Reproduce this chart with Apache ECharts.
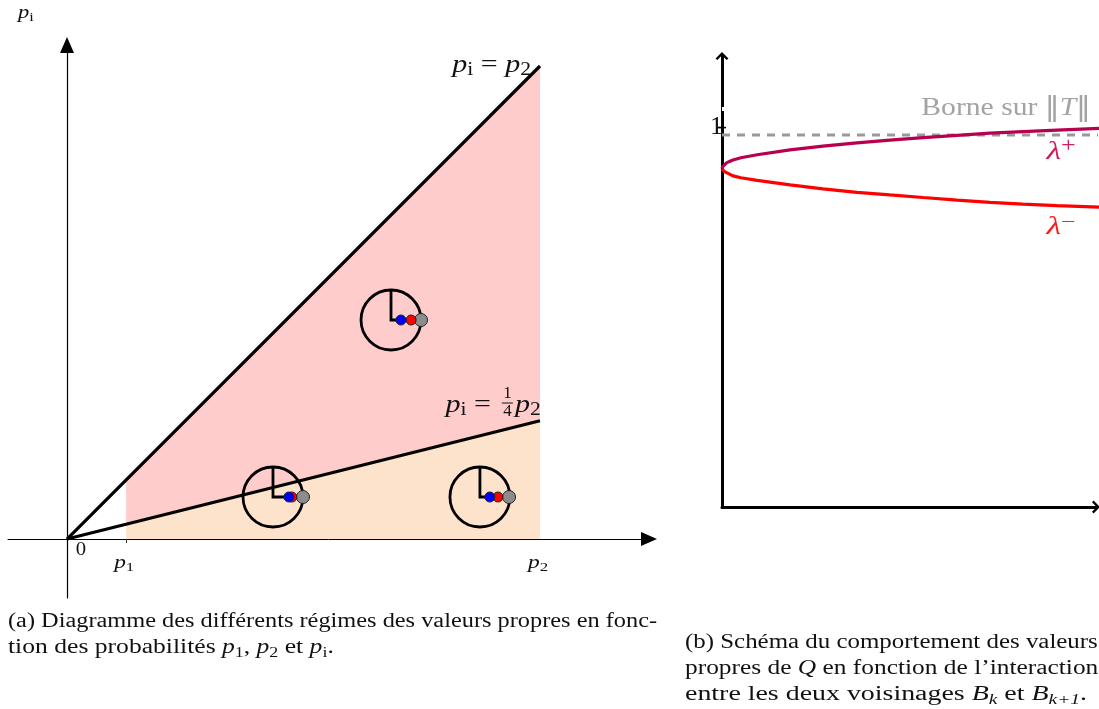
<!DOCTYPE html>
<html><head><meta charset="utf-8">
<style>html,body{margin:0;padding:0;background:#fff}#c{width:1099px;height:709px}</style>
<script src="https://cdn.jsdelivr.net/npm/echarts@6/dist/echarts.min.js"></script>
</head><body><div id="c"></div>
<script>
// ---- Panel (a) data (units of p2) ----
const p1Value = 0.125, p2Value = 1;
const diagonalLine = [[0, 0], [1, 1]];
const quarterLine = [[0, 0], [1, 0.25]];
const pinkRegion = [[0.125, 0.03125], [0.125, 0.125], [1, 1], [1, 0.25]];
const orangeRegion = [[0.125, 0], [1, 0], [1, 0.25], [0.125, 0.03125]];
const dialX = [0.685, 0.4355, 0.873];
const dialY = [0.463, 0.0888, 0.0888];
const dialRadius = 0.0634;
const blueFraction = [0.33, 0.53, 0.33];
const redFraction = [0.67, 0.63, 0.60];
const grayFraction = [1.0, 1.0, 0.97];
// ---- Panel (b) data ----
const lambdaX     = [0, 0.002, 0.006, 0.012, 0.02, 0.029, 0.05, 0.093, 0.18, 0.267, 0.357, 0.444, 0.532, 0.622, 0.709, 0.796, 0.886, 1];
const lambdaPlus  = [0.909, 0.915, 0.920, 0.925, 0.929, 0.933, 0.939, 0.947, 0.960, 0.970, 0.979, 0.986, 0.993, 0.999, 1.005, 1.009, 1.013, 1.018];
const lambdaMinus = [0.909, 0.905, 0.902, 0.899, 0.895, 0.890, 0.885, 0.878, 0.866, 0.855, 0.846, 0.839, 0.832, 0.825, 0.819, 0.814, 0.810, 0.806];
const boundLine = [[0, 1], [1, 1]];
const tickOneValue = 1.02;

const F = '"Liberation Serif", "DejaVu Serif", serif';
const ink = '#111';
const mathRich = (size, color) => ({
  m: {fontFamily: F, fontStyle: 'italic', fontSize: size, fill: color, lineHeight: size + 4},
  t: {fontFamily: F, fontSize: size, fill: color, lineHeight: size + 4},
  b: {fontFamily: '"DejaVu Sans"', fontSize: size, fill: color, lineHeight: size + 4},
  s: {fontFamily: F, fontSize: Math.round(size * 0.7), fill: color, verticalAlign: 'bottom', lineHeight: size + 4},
  si: {fontFamily: F, fontStyle: 'italic', fontSize: Math.round(size * 0.7), fill: color, verticalAlign: 'bottom', lineHeight: size + 4},
  u: {fontFamily: F, fontSize: Math.round(size * 0.75), fill: color, verticalAlign: 'top', lineHeight: size + 4}
});
const annotationSeries = (xi, yi, items) => ({
  type: 'custom', xAxisIndex: xi, yAxisIndex: yi, silent: true, z: 8, clip: false,
  data: items.map(a => a.at),
  renderItem: (p, api) => {
    const a = items[p.dataIndex];
    const c = api.coord([api.value(0), api.value(1)]);
    return {type: 'text', x: c[0], y: c[1], scaleX: a.scale || 1,
      style: {text: a.text, rich: a.rich, align: a.align || 'center', verticalAlign: 'middle'}};
  }
});
const polygonSeries = (pts, color) => ({
  type: 'custom', xAxisIndex: 0, yAxisIndex: 0, silent: true, z: 1, data: [0],
  renderItem: (p, api) => ({type: 'polygon', shape: {points: pts.map(q => api.coord(q))}, style: {fill: color}})
});
const dialSeries = {
  type: 'custom', xAxisIndex: 0, yAxisIndex: 0, silent: true, z: 4,
  data: dialX.map((x, i) => [x, dialY[i], grayFraction[i]]),
  renderItem: (p, api) => {
    const c = api.coord([api.value(0), api.value(1)]);
    const r = api.size([dialRadius, 0])[0];
    const style = {stroke: '#000', lineWidth: 2.8, fill: 'none'};
    return {type: 'group', children: [
      {type: 'circle', shape: {cx: c[0], cy: c[1], r}, style},
      {type: 'polyline', shape: {points: [[c[0], c[1] - r], c, [c[0] + r * api.value(2), c[1]]]}, style}
    ]};
  }
};
const dotSeries = (fractions, color, size) => ({
  type: 'scatter', xAxisIndex: 0, yAxisIndex: 0, silent: true, z: 5, symbolSize: size,
  itemStyle: {color, borderColor: '#222', borderWidth: 1, opacity: 1},
  data: dialX.map((x, i) => [x + fractions[i] * dialRadius, dialY[i]])
});
const caption = (x, y, scale, text) => ({type: 'text', x, y, scaleX: scale, silent: true,
  style: {text, rich: mathRich(20, ink), align: 'left', verticalAlign: 'middle'}});
const chevron = 'path://M50,0 L100,50 L86,62 L50,26 L14,62 L0,50 Z';
const chart = echarts.init(document.getElementById('c'));
chart.setOption({
  animation: false, backgroundColor: '#fff',
  grid: [
    {left: 8, top: 45, width: 641, height: 553},
    {left: 722, top: 56, width: 374, height: 451}
  ],
  xAxis: [
    {type: 'value', gridIndex: 0, min: -0.1247, max: 1.2304, splitLine: {show: false}, axisLabel: {show: false},
     axisLine: {show: true, lineStyle: {color: '#000', width: 1}, symbol: ['none', 'triangle'], symbolSize: [14, 16]},
     axisTick: {show: true, customValues: [p1Value], length: 4, lineStyle: {color: '#333', width: 1}}},
    {type: 'value', gridIndex: 1, min: 0, max: 0.9894, splitLine: {show: false}, axisTick: {show: false}, axisLabel: {show: false},
     axisLine: {show: true, onZero: false, lineStyle: {color: '#000', width: 3}, symbol: ['none', chevron], symbolSize: [15, 8]}}
  ],
  yAxis: [
    {type: 'value', gridIndex: 0, min: -0.1247, max: 1.0444, splitLine: {show: false}, axisTick: {show: false}, axisLabel: {show: false},
     axisLine: {show: true, lineStyle: {color: '#000', width: 1.2}, symbol: ['none', 'triangle'], symbolSize: [14, 16]}},
    {type: 'value', gridIndex: 1, min: 0, max: 1.2124, splitLine: {show: false},
     axisLine: {show: true, onZero: false, lineStyle: {color: '#000', width: 3}, symbol: ['none', chevron], symbolSize: [15, 8]},
     axisTick: {show: true, customValues: [tickOneValue], length: 4, lineStyle: {color: '#000', width: 1.4}},
     axisLabel: {show: true, customValues: [tickOneValue], formatter: () => '1', margin: -1, padding: [3, 0, 0, 0], fontFamily: F, fontSize: 26, color: ink}}
  ],
  series: [
    polygonSeries(pinkRegion, '#ffcccc'),
    polygonSeries(orangeRegion, '#fee3cc'),
    {type: 'line', xAxisIndex: 0, yAxisIndex: 0, data: diagonalLine, symbol: 'none', silent: true, z: 3, lineStyle: {color: '#000', width: 3.2}},
    {type: 'line', xAxisIndex: 0, yAxisIndex: 0, data: quarterLine, symbol: 'none', silent: true, z: 3, lineStyle: {color: '#000', width: 3.2}},
    dialSeries,
    dotSeries(grayFraction, '#8c8c8c', 13),
    dotSeries(redFraction, '#ff0000', 10),
    dotSeries(blueFraction, '#0000ff', 10),
    annotationSeries(0, 0, [
      {at: [0.0296, -0.0233], text: '{t|0}', scale: 1.15, rich: mathRich(18, ink)},
      {at: [p1Value - 0.004, -0.0507], text: '{m|p}{s|1}', scale: 1.3, rich: mathRich(18, ink)},
      {at: [p2Value - 0.004, -0.0507], text: '{m|p}{s|2}', scale: 1.3, rich: mathRich(18, ink)},
      {at: [0.981, 1.002], align: 'right', text: '{m|p}{s|i}{t| = }{m|p}{s|2}', scale: 1.2, rich: mathRich(25, ink)},
      {at: [0.896, 0.283], align: 'right', text: '{m|p}{s|i}{t| =}', scale: 1.2, rich: mathRich(25, ink)},
      {at: [0.931, 0.2875], text: '{n|1}\n{r|}\n{n|4}', rich: {
        n: {fontFamily: F, fontSize: 17, fill: ink, lineHeight: 17, align: 'center'},
        r: {width: 11, height: 1, lineHeight: 1, backgroundColor: ink, align: 'center'}}},
      {at: [0.947, 0.283], align: 'left', text: '{m|p}{s|2}', scale: 1.2, rich: mathRich(25, ink)}
    ]),
    {type: 'line', xAxisIndex: 1, yAxisIndex: 1, data: boundLine, symbol: 'none', silent: true, clip: false, z: 2,
     lineStyle: {color: '#999', width: 3, type: [8, 7]}},
    {type: 'line', xAxisIndex: 1, yAxisIndex: 1, data: lambdaX.map((x, i) => [x, lambdaMinus[i]]), symbol: 'none', silent: true, clip: false, z: 3,
     lineStyle: {color: '#ff0000', width: 3.2}},
    {type: 'line', xAxisIndex: 1, yAxisIndex: 1, data: lambdaX.map((x, i) => [x, lambdaPlus[i]]), symbol: 'none', silent: true, clip: false, z: 3,
     lineStyle: {color: '#b8004f', width: 3.2}},
    {type: 'scatter', xAxisIndex: 1, yAxisIndex: 1, data: [[0, tickOneValue]], symbol: 'rect', symbolSize: [8, 1.5], silent: true, z: 4, clip: false,
     itemStyle: {color: '#000', opacity: 1}},
    annotationSeries(1, 1, [
      {at: [0.976, 1.0726], align: 'right', text: '{t|Borne sur }{b|‖}{m|T}{b|‖}', scale: 1.14, rich: mathRich(26, '#a3a3a3')},
      {at: [0.897, 0.955], text: '{m|λ}{u|+}', scale: 1.3, rich: mathRich(26, '#d01c60')},
      {at: [0.897, 0.752], text: '{m|λ}{u|−}', scale: 1.3, rich: mathRich(26, '#ff1a1a')}
    ])
  ],
  graphic: [
    {type: 'rect', z: 100, silent: true, shape: {x: 722, y: 107, width: 2, height: 4}, style: {fill: '#fff'}},
    {type: 'text', x: 18, y: 13, scaleX: 1.25, silent: true, style: {text: '{m|p}{s|i}', rich: mathRich(18, ink), align: 'left', verticalAlign: 'middle'}},
    caption(8, 622, 1.217, '{t|(a) Diagramme des différents régimes des valeurs propres en fonc-}'),
    caption(8, 648, 1.28, '{t|tion des probabilités }{m|p}{s|1}{t|, }{m|p}{s|2}{t| et }{m|p}{s|i}{t|.}'),
    caption(685, 643, 1.245, '{t|(b) Schéma du comportement des valeurs}'),
    caption(685, 669, 1.27, '{t|propres de }{m|Q}{t| en fonction de l’interaction}'),
    caption(685, 695, 1.395, '{t|entre les deux voisinages }{m|B}{si|k}{t| et }{m|B}{si|k+1}{t|.}')
  ]
});
</script></body></html>
